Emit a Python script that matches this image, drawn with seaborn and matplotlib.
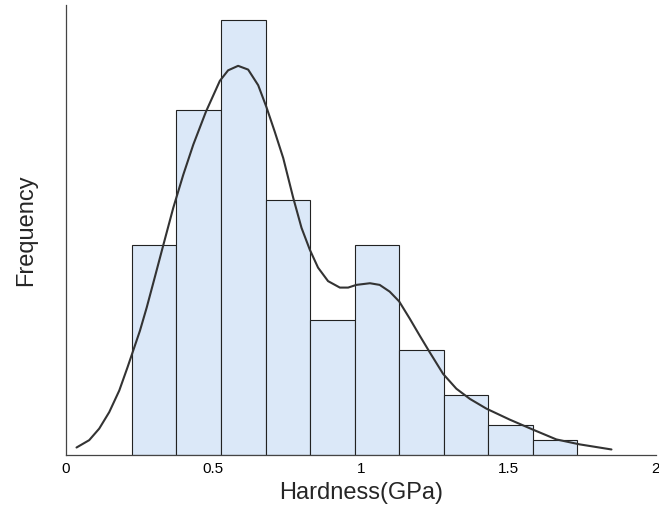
import numpy as np
import seaborn as sns
import matplotlib.pyplot as plt

# Histogram of hardness values (bin edges and counts)
bin_edges = [0.224, 0.375, 0.526, 0.677, 0.828, 0.979, 1.130, 1.281, 1.432, 1.583, 1.734]
counts = [14, 23, 29, 17, 9, 14, 7, 4, 2, 1]

# Smoothed density curve, scaled to counts
curve_x = [0.036, 0.079, 0.113, 0.147, 0.181, 0.209, 0.232, 0.251, 0.274, 0.302,
           0.330, 0.364, 0.398, 0.432, 0.475, 0.522, 0.550, 0.584, 0.618, 0.652,
           0.680, 0.708, 0.737, 0.771, 0.799, 0.827, 0.855, 0.889, 0.929, 0.957,
           0.985, 1.031, 1.064, 1.098, 1.130, 1.166, 1.200, 1.234, 1.279, 1.324,
           1.370, 1.426, 1.505, 1.584, 1.663, 1.742, 1.850]
curve_y = [0.51, 1.00, 1.77, 2.87, 4.31, 5.86, 7.19, 8.29, 9.84, 11.9,
           13.98, 16.48, 18.69, 20.7, 22.9, 24.95, 25.65, 25.95, 25.7, 24.66,
           23.2, 21.57, 19.8, 17.14, 15.15, 13.7, 12.5, 11.6, 11.17, 11.17,
           11.35, 11.46, 11.35, 10.9, 10.25, 9.1, 7.96, 6.85, 5.42, 4.43,
           3.75, 3.10, 2.37, 1.70, 1.05, 0.72, 0.38]

sns.set_style("white")
plt.rcParams['font.family'] = ['Liberation Sans', 'DejaVu Sans']

fig = plt.figure(figsize=(6.59, 5.08), dpi=100)
ax = fig.add_axes([0.100, 0.104, 0.895, 0.886])

centers = [(a + b) / 2 for a, b in zip(bin_edges[:-1], bin_edges[1:])]
sns.histplot(x=centers, weights=counts, bins=bin_edges, ax=ax,
             color="#dbe8f8", edgecolor="#222222", linewidth=0.8, alpha=1)
sns.lineplot(x=curve_x, y=curve_y, sort=False, ax=ax, color="#333333", linewidth=1.5)

ax.set_xlim(0, 2)
ax.set_ylim(0, 30)
ax.set_xticks([0, 0.5, 1, 1.5, 2])
ax.set_xticklabels(["0", "0.5", "1", "1.5", "2"])
ax.set_yticks([30])
ax.set_yticklabels([""])
ax.tick_params(axis="both", direction="in", length=4, width=0.8, colors="#555555",
               labelcolor="black", labelsize=11, pad=5)
ax.set_xlabel("Hardness(GPa)", fontsize=17, labelpad=4)
ax.set_ylabel("Frequency", fontsize=17, labelpad=16)

for side in ["top", "right"]:
    ax.spines[side].set_visible(False)
for side in ["left", "bottom"]:
    ax.spines[side].set_color("#444444")
    ax.spines[side].set_linewidth(0.9)

fig.savefig("out.png", dpi=100)
